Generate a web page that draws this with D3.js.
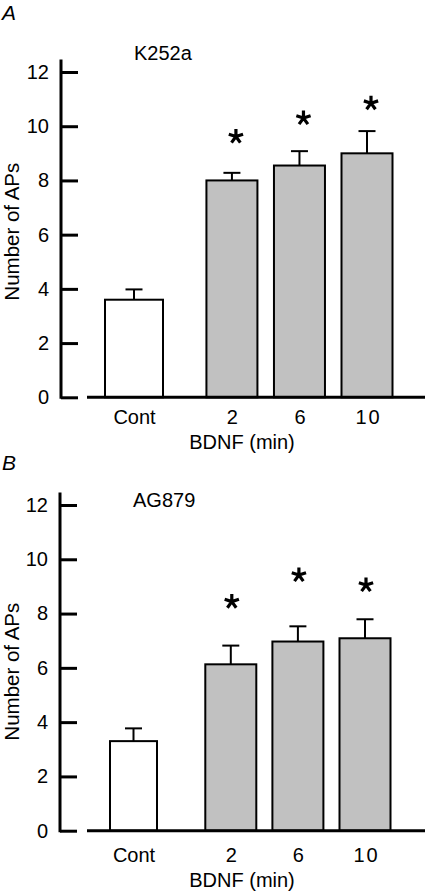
<!DOCTYPE html>
<html><head><meta charset="utf-8">
<script src="https://cdn.jsdelivr.net/npm/d3@7"></script>
<style>body{margin:0;background:#fff} svg{display:block}</style>
</head><body>
<script>
// ---- data ----
const categories = ["Cont", "2", "6", "10"];
const yTicks = [0, 2, 4, 6, 8, 10, 12];
const k252aMeans  = [3.6, 8.0, 8.55, 9.0];
const k252aErrors = [0.38, 0.28, 0.53, 0.82];
const k252aStars  = [null, 9.62, 10.3, 10.85];
const ag879Means  = [3.3, 6.13, 6.97, 7.09];
const ag879Errors = [0.47, 0.69, 0.56, 0.7];
const ag879Stars  = [null, 8.44, 9.42, 9.05];

// ---- layout ----
const W = 425, H = 895;
const font = "'Liberation Sans', Arial, sans-serif";
const slots = [0, 1.45, 2.45, 3.45];
const panels = [
  {letter: "A", letterY: 20, title: "K252a", titleX: 134, titleY: 60,
   means: k252aMeans, errors: k252aErrors, stars: k252aStars,
   yRange: [397.3, 72], axisX: 61, xRange: [134, 367], contW: 58,
   yTitleY: 231.7, tickPad: 12.5, xTitleY: 449, starDx: 4},
  {letter: "B", letterY: 470, title: "AG879", titleX: 133, titleY: 507,
   means: ag879Means, errors: ag879Errors, stars: ag879Stars,
   yRange: [830.7, 505], axisX: 60, xRange: [133.5, 365], contW: 47,
   yTitleY: 671.7, tickPad: 17.5, xTitleY: 887, starDx: 1}
];
const barW = 51;
const fs = 20;

const svg = d3.select("body").append("svg").attr("width", W).attr("height", H)
  .style("font-family", font);

const starArm = 7.5;
const starPath = d3.range(5).map(i => {
  const a = (-90 + i * 72) * Math.PI / 180;
  return `M0,0L${(starArm * Math.cos(a)).toFixed(2)},${(starArm * Math.sin(a)).toFixed(2)}`;
}).join("");

panels.forEach(p => {
  const y = d3.scaleLinear().domain([0, 12]).range(p.yRange);
  const x = d3.scaleLinear().domain([0, 3.45]).range(p.xRange);
  const g = svg.append("g");

  // panel letter & title
  g.append("text").attr("x", 2).attr("y", p.letterY).attr("font-size", 21)
    .attr("font-style", "italic").text(p.letter);
  g.append("text").attr("x", p.titleX).attr("y", p.titleY).attr("font-size", fs).text(p.title);

  // bars
  const data = categories.map((c, i) => ({c, m: p.means[i], e: p.errors[i], s: p.stars[i], slot: slots[i], i}));
  g.selectAll("rect.bar").data(data).join("rect")
    .attr("x", d => x(d.slot) - (d.i === 0 ? p.contW : barW) / 2)
    .attr("width", d => d.i === 0 ? p.contW : barW)
    .attr("y", d => y(d.m))
    .attr("height", d => y(0) - y(d.m))
    .attr("fill", d => d.i === 0 ? "#ffffff" : "#c1c1c1")
    .attr("stroke", "#000").attr("stroke-width", 2);

  // error bars
  g.selectAll("line.err").data(data).join("line")
    .attr("x1", d => x(d.slot)).attr("x2", d => x(d.slot))
    .attr("y1", d => y(d.m)).attr("y2", d => y(d.m + d.e))
    .attr("stroke", "#000").attr("stroke-width", 2);
  g.selectAll("line.cap").data(data).join("line")
    .attr("x1", d => x(d.slot) - 8.5).attr("x2", d => x(d.slot) + 8.5)
    .attr("y1", d => y(d.m + d.e)).attr("y2", d => y(d.m + d.e))
    .attr("stroke", "#000").attr("stroke-width", 2);

  // stars
  g.selectAll("path.star").data(data.filter(d => d.s != null)).join("path")
    .attr("transform", d => `translate(${x(d.slot) + p.starDx},${y(d.s)})`)
    .attr("d", starPath).attr("stroke", "#000").attr("stroke-width", 3.2).attr("fill", "none");

  // y axis
  const ya = g.append("g").attr("transform", `translate(${p.axisX},0)`)
    .call(d3.axisLeft(y).tickValues(yTicks).tickSizeInner(-17).tickSizeOuter(0).tickPadding(12));
  ya.select(".domain").remove();
  ya.selectAll(".tick line").attr("stroke", "#000").attr("stroke-width", 3);
  ya.selectAll(".tick text").attr("font-size", fs).attr("font-family", font).attr("fill", "#000");
  g.append("line").attr("x1", p.axisX).attr("x2", p.axisX)
    .attr("y1", y(0) + 1.5).attr("y2", y(12) - 12.5)
    .attr("stroke", "#000").attr("stroke-width", 3);

  // x axis
  const xa = g.append("g").attr("transform", `translate(0,${y(0)})`)
    .call(d3.axisBottom(x).tickValues(slots).tickFormat((d, i) => categories[i])
      .tickSize(0).tickPadding(p.tickPad));
  xa.select(".domain").remove();
  xa.selectAll(".tick text").attr("font-size", fs).attr("font-family", font).attr("fill", "#000")
    .attr("letter-spacing", (d, i) => categories[i] === "10" ? "2px" : null)
    .attr("dx", (d, i) => categories[i] === "10" ? "1px" : null);
  g.append("line").attr("x1", 87).attr("x2", W).attr("y1", y(0)).attr("y2", y(0))
    .attr("stroke", "#000").attr("stroke-width", 3);

  // axis titles
  g.append("text").attr("transform", `translate(19,${p.yTitleY}) rotate(-90)`)
    .attr("text-anchor", "middle").attr("font-size", 20.5).text("Number of APs");
  g.append("text").attr("x", 242).attr("y", p.xTitleY).attr("text-anchor", "middle")
    .attr("font-size", fs).text("BDNF (min)");
});
</script>
</body></html>
